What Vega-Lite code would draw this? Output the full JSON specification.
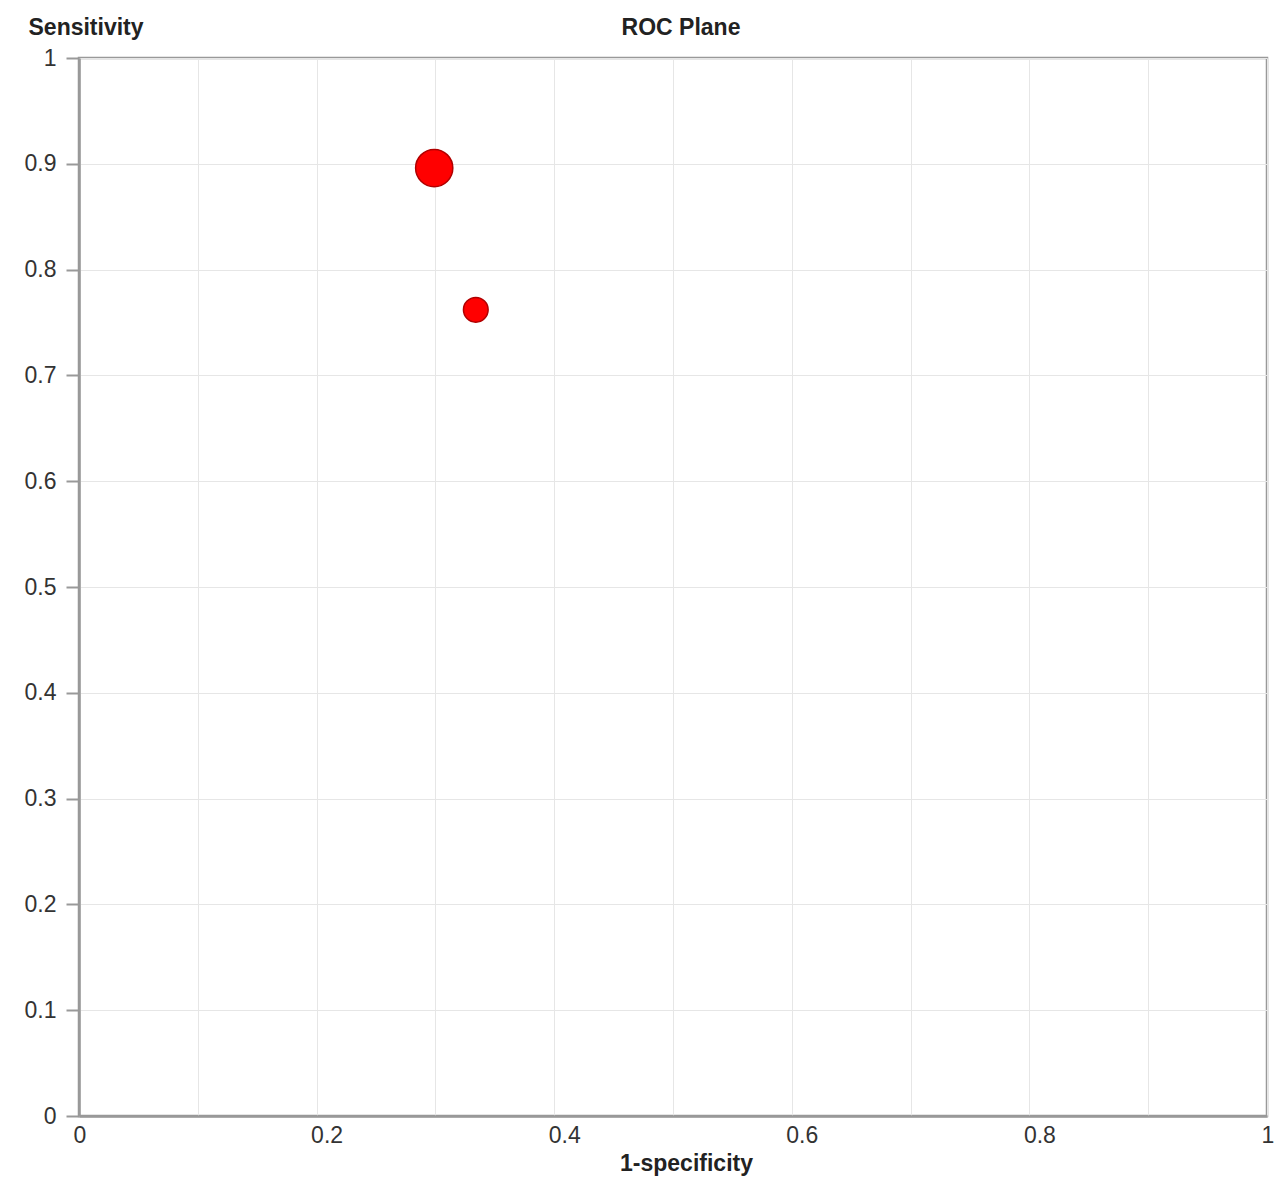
{
  "$schema": "https://vega.github.io/schema/vega-lite/v6.json",
  "autosize": {"type": "none"},
  "width": 1188,
  "height": 1058,
  "padding": {"left": 79, "top": 58, "right": 13, "bottom": 70},
  "background": "white",
  "title": {"text": "ROC Plane", "font": "Liberation Sans", "fontSize": 23, "fontWeight": "bold", "color": "#222", "anchor": "middle", "frame": "group", "dx": 8, "offset": 0, "baseline": "middle", "dy": 35},
  "config": {
    "view": {"stroke": "#999", "strokeWidth": 2.5},
    "axis": {"labelFont": "Liberation Sans", "titleFont": "Liberation Sans", "labelFontSize": 23, "labelColor": "#333", "titleFontSize": 23, "titleFontWeight": "bold", "titleColor": "#222", "gridColor": "#e6e6e6", "gridWidth": 1, "domainColor": "#999", "domainWidth": 2.5, "tickColor": "#999", "tickWidth": 2}
  },
  "data": {"values": [
    {"fpr": 0.299, "sens": 0.896, "weight": 100},
    {"fpr": 0.334, "sens": 0.762, "weight": 44}
  ]},
  "mark": {"type": "circle", "color": "#ff0000", "stroke": "#b00000", "strokeWidth": 1.5, "opacity": 1},
  "encoding": {
    "x": {"field": "fpr", "type": "quantitative", "scale": {"domain": [0, 1], "nice": false, "zero": true},
      "axis": {"title": "1-specificity", "values": [0,0.1,0.2,0.3,0.4,0.5,0.6,0.7,0.8,0.9,1], "labelExpr": "round(datum.value*10) % 2 == 0 ? format(datum.value, '~g') : ''", "ticks": false, "labelAlign": "left", "labelOffset": -6, "labelPadding": 8, "labelFlush": false, "labelOverlap": false, "titleX": 607, "titleY": 47, "titleBaseline": "middle"}},
    "y": {"field": "sens", "type": "quantitative", "scale": {"domain": [0, 1], "nice": false},
      "axis": {"title": "Sensitivity", "values": [0,0.1,0.2,0.3,0.4,0.5,0.6,0.7,0.8,0.9,1], "labelExpr": "format(datum.value, '~g')", "tickSize": 13, "labelPadding": 10, "labelFlush": false, "labelOverlap": false, "titleAngle": 0, "titleAlign": "left", "titleBaseline": "middle", "titleX": -51, "titleY": -31}},
    "size": {"field": "weight", "type": "quantitative", "scale": {"domain": [0, 100], "range": [0, 1385]}, "legend": null}
  }
}
